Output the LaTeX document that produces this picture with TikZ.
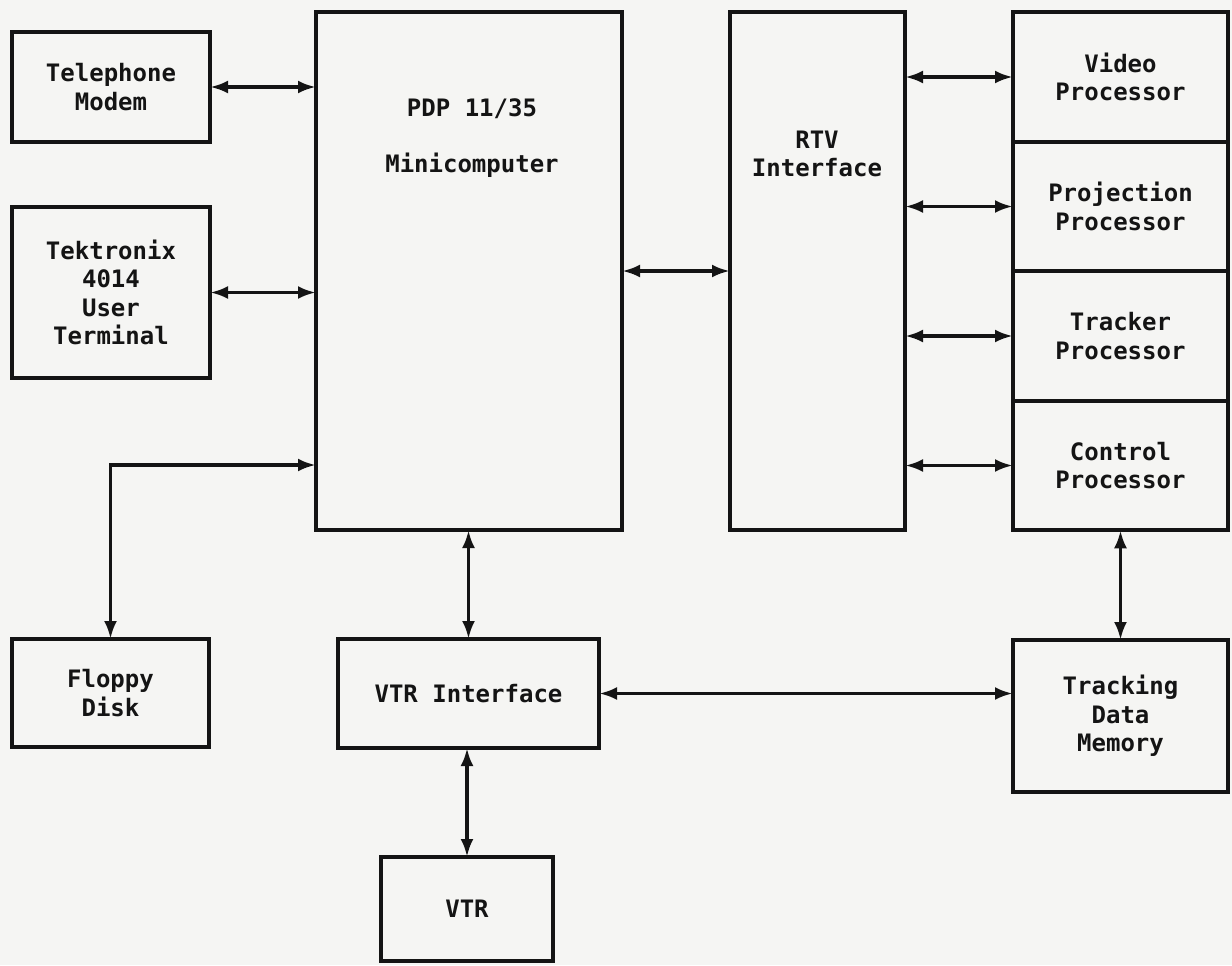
\documentclass[tikz,border=0pt]{standalone}
\usepackage{fontspec}
\setmonofont{DejaVu Sans Mono}
\usetikzlibrary{arrows.meta,positioning,calc}
\definecolor{ScanPaper}{HTML}{F5F5F3}
\definecolor{Ink}{HTML}{141414}
\newcommand{\diagfont}{\ttfamily\bfseries\fontsize{12}{14.3}\selectfont}

\begin{document}
\begin{tikzpicture}[x=0.5pt,y=-0.5pt,
  block/.style={draw=Ink,line width=2.2pt,inner sep=0pt,outer sep=0pt,align=center,text=Ink,font=\diagfont},
  cpu/.style={block,minimum width=107.5pt,minimum height=64.75pt},
  link/.style={draw=Ink,line width=1.8pt,>={Latex[length=9pt,width=6.5pt]},<->},
  caption/.style={align=center,text=Ink,font=\diagfont}]
  \fill[ScanPaper] (0,0) rectangle (1232,965);
  \useasboundingbox (0,0) rectangle (1232,965);

  % left column
  \node[block,minimum width=99pt,minimum height=55pt] (modem) at (111,87) {Telephone\\Modem};
  \node[block,minimum width=99pt,minimum height=85.5pt] (tek) at (111,292.5) {Tektronix\\4014\\User\\Terminal};
  \node[block,minimum width=98.5pt,minimum height=54pt] (floppy) at (110.5,693) {Floppy\\Disk};

  % computer and interfaces
  \node[block,minimum width=153pt,minimum height=259pt] (pdp) at (469,271) {};
  \node[caption] (pdplabel) at (472,138) {PDP 11/35\\[14pt]Minicomputer};
  \node[block,minimum width=87.5pt,minimum height=259pt] (rtv) at (817.5,271) {};
  \node[caption] (rtvlabel) at (817,154) {RTV\\Interface};
  \node[block,minimum width=130.5pt,minimum height=54.5pt] (vtrif) at (468.5,693.5) {VTR Interface};
  \node[block,minimum width=86pt,minimum height=52pt] (vtr) at (467,909) {VTR};

  % processor stack
  \node[cpu] (video) at (1120.5,77) {Video\\Processor};
  \node[cpu] (proj) at (1120.5,206.5) {Projection\\Processor};
  \node[cpu] (tracker) at (1120.5,336) {Tracker\\Processor};
  \node[cpu] (control) at (1120.5,465.5) {Control\\Processor};
  \node[block,minimum width=107.5pt,minimum height=76pt] (tdm) at (1120.5,716) {Tracking\\Data\\Memory};

  % connections
  \draw[link] (modem.east) -- (modem.east -| pdp.west);
  \draw[link] (tek.east) -- (tek.east -| pdp.west);
  \coordinate (pdptap) at ([yshift=-97pt]pdp.west);
  \draw[link] (pdptap) -| (floppy.north);
  \draw[link] (pdp.east) -- (rtv.west);
  \foreach \p in {video,proj,tracker,control}
    \draw[link] (rtv.east |- \p.west) -- (\p.west);
  \draw[link] (vtrif.north |- pdp.south) -- (vtrif.north);
  \draw[link] (vtr.north |- vtrif.south) -- (vtr.north);
  \draw[link] (vtrif.east) -- (vtrif.east -| tdm.west);
  \draw[link] (control.south) -- (tdm.north);
\end{tikzpicture}
\end{document}
